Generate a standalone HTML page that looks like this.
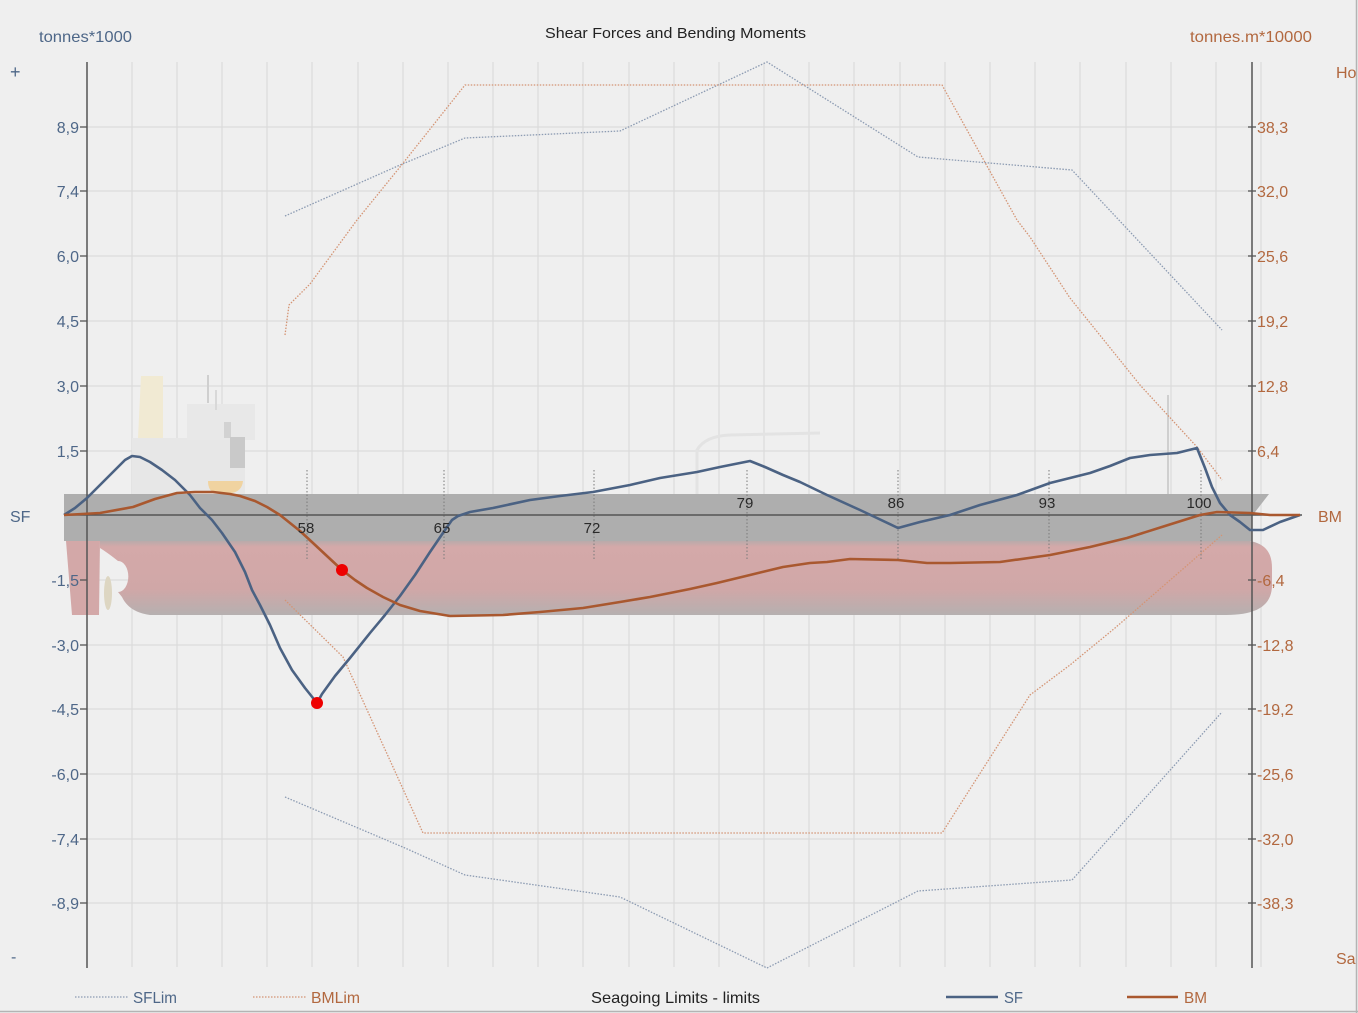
<!DOCTYPE html>
<html><head><meta charset="utf-8">
<style>
html,body{margin:0;padding:0;background:#efefef;}
svg{display:block;font-family:"Liberation Sans",sans-serif;}
</style></head>
<body>
<svg width="1358" height="1013" viewBox="0 0 1358 1013" xmlns="http://www.w3.org/2000/svg">
<defs>
<linearGradient id="hull" x1="0" y1="0" x2="0" y2="1">
<stop offset="0" stop-color="#b9aaaa"/>
<stop offset="0.08" stop-color="#d4a9a9"/>
<stop offset="0.65" stop-color="#d0a7a7"/>
<stop offset="1" stop-color="#b6b0b0"/>
</linearGradient>
</defs>
<rect x="0" y="0" width="1358" height="1013" fill="#efefef"/>
<line x1="1356.5" y1="0" x2="1356.5" y2="1013" stroke="#b4b4b4" stroke-width="1.5"/>
<line x1="0" y1="1011.5" x2="1358" y2="1011.5" stroke="#b4b4b4" stroke-width="1.5"/>

<g stroke="#dcdcdc" stroke-width="1.3">
<line x1="132" y1="62" x2="132" y2="967"/><line x1="177" y1="62" x2="177" y2="967"/><line x1="222" y1="62" x2="222" y2="967"/><line x1="267" y1="62" x2="267" y2="967"/><line x1="312" y1="62" x2="312" y2="967"/><line x1="358" y1="62" x2="358" y2="967"/><line x1="403" y1="62" x2="403" y2="967"/><line x1="448" y1="62" x2="448" y2="967"/><line x1="493" y1="62" x2="493" y2="967"/><line x1="538" y1="62" x2="538" y2="967"/><line x1="583" y1="62" x2="583" y2="967"/><line x1="629" y1="62" x2="629" y2="967"/><line x1="674" y1="62" x2="674" y2="967"/><line x1="719" y1="62" x2="719" y2="967"/><line x1="764" y1="62" x2="764" y2="967"/><line x1="809" y1="62" x2="809" y2="967"/><line x1="854" y1="62" x2="854" y2="967"/><line x1="900" y1="62" x2="900" y2="967"/><line x1="945" y1="62" x2="945" y2="967"/><line x1="990" y1="62" x2="990" y2="967"/><line x1="1035" y1="62" x2="1035" y2="967"/><line x1="1080" y1="62" x2="1080" y2="967"/><line x1="1126" y1="62" x2="1126" y2="967"/><line x1="1171" y1="62" x2="1171" y2="967"/><line x1="1216" y1="62" x2="1216" y2="967"/><line x1="1261" y1="62" x2="1261" y2="967"/>
</g>
<g stroke="#dcdcdc" stroke-width="1.3">
<line x1="87" y1="127" x2="1252" y2="127"/><line x1="87" y1="191" x2="1252" y2="191"/><line x1="87" y1="256" x2="1252" y2="256"/><line x1="87" y1="321" x2="1252" y2="321"/><line x1="87" y1="386" x2="1252" y2="386"/><line x1="87" y1="451" x2="1252" y2="451"/><line x1="87" y1="580" x2="1252" y2="580"/><line x1="87" y1="645" x2="1252" y2="645"/><line x1="87" y1="709" x2="1252" y2="709"/><line x1="87" y1="774" x2="1252" y2="774"/><line x1="87" y1="839" x2="1252" y2="839"/><line x1="87" y1="903" x2="1252" y2="903"/>
</g>

<g>
<rect x="132" y="438" width="113" height="56" fill="#e7e7e7"/>
<rect x="187" y="404" width="68" height="36" fill="#e8e8e8"/>
<polygon points="141,376 163,376 163,438 138,438" fill="#f1ead3"/>
<rect x="224" y="422" width="7" height="16" fill="#d2d2d2"/>
<rect x="230" y="437" width="15" height="31" fill="#c9c9c9"/>
<line x1="208" y1="375" x2="208" y2="403" stroke="#cfcfcf" stroke-width="2"/>
<line x1="216" y1="390" x2="216" y2="410" stroke="#d8d8d8" stroke-width="2"/>
<path d="M697 494 L697 450 Q705 436 730 435 L820 433" fill="none" stroke="#e3e3e3" stroke-width="3"/>
<line x1="1168" y1="395" x2="1168" y2="494" stroke="#cfcfcf" stroke-width="2"/>
</g>

<path d="M64 494 L1269 494 L1252 516 L1252 541 L64 541 Z" fill="#aeaeae"/>
<path d="M208 481 L243 481 Q242 491 232 493 L215 493 Q208 491 208 481 Z" fill="#f0d3a0"/>
<path d="M100 541 L1250 541 C1265 544 1272 552 1272 568 L1272 585 C1272 606 1256 615 1226 615 L150 615 Q129 612 122 597 L118 592 A10 15 0 0 0 118 561 Q108 553 100 548 Z" fill="url(#hull)"/>
<polygon points="66,541 100,541 99,615 72,615" fill="#d3a8a8"/>
<ellipse cx="108" cy="593" rx="4" ry="17" fill="#ddd6c2"/>

<g stroke="#7a7a7a" stroke-width="1" stroke-dasharray="1.5,2">
<line x1="307" y1="470" x2="307" y2="560"/><line x1="444" y1="470" x2="444" y2="560"/><line x1="594" y1="470" x2="594" y2="560"/><line x1="747" y1="470" x2="747" y2="560"/><line x1="898" y1="470" x2="898" y2="560"/><line x1="1049" y1="470" x2="1049" y2="560"/><line x1="1201" y1="470" x2="1201" y2="560"/>
</g>

<line x1="87" y1="62" x2="87" y2="968" stroke="#555" stroke-width="1.5"/>
<line x1="1252" y1="62" x2="1252" y2="968" stroke="#555" stroke-width="1.5"/>
<line x1="64" y1="515" x2="1302" y2="515" stroke="#555" stroke-width="1.5"/>
<g stroke="#555" stroke-width="1.3">
<line x1="80" y1="127" x2="87" y2="127"/><line x1="80" y1="191" x2="87" y2="191"/><line x1="80" y1="256" x2="87" y2="256"/><line x1="80" y1="321" x2="87" y2="321"/><line x1="80" y1="386" x2="87" y2="386"/><line x1="80" y1="451" x2="87" y2="451"/><line x1="80" y1="580" x2="87" y2="580"/><line x1="80" y1="645" x2="87" y2="645"/><line x1="80" y1="709" x2="87" y2="709"/><line x1="80" y1="774" x2="87" y2="774"/><line x1="80" y1="839" x2="87" y2="839"/><line x1="80" y1="903" x2="87" y2="903"/>
<line x1="1248" y1="127" x2="1256" y2="127"/><line x1="1248" y1="191" x2="1256" y2="191"/><line x1="1248" y1="256" x2="1256" y2="256"/><line x1="1248" y1="321" x2="1256" y2="321"/><line x1="1248" y1="386" x2="1256" y2="386"/><line x1="1248" y1="451" x2="1256" y2="451"/><line x1="1248" y1="580" x2="1256" y2="580"/><line x1="1248" y1="645" x2="1256" y2="645"/><line x1="1248" y1="709" x2="1256" y2="709"/><line x1="1248" y1="774" x2="1256" y2="774"/><line x1="1248" y1="839" x2="1256" y2="839"/><line x1="1248" y1="903" x2="1256" y2="903"/>
</g>

<g fill="none" stroke-width="1.3" stroke-dasharray="1.5,1.5">
<path d="M285 216 L400 165 L465 138 L620 131 L767 62 L918 157 L1072 170 L1222 330" stroke="#8c9bb2"/>
<path d="M285 797 L405 848 L465 875 L620 897 L767 968 L918 891 L1072 880 L1222 712" stroke="#8c9bb2"/>
<path d="M285 335 L289 305 L310 284 L357 220 L400 167 L465 85 L942 85 L1017 220 L1030 237 L1070 298 L1140 385 L1197 447 L1222 480" stroke="#d49474"/>
<path d="M285 600 L343 657 L423 833 L942 833 L1030 695 L1070 665 L1115 628 L1222 535" stroke="#d49474"/>
</g>

<path d="M64 515 L75 508 L87 498 L100 485 L115 470 L125 460 L132 456 L140 457 L150 462 L162 470 L175 480 L190 495 L200 508 L212 520 L222 533 L235 552 L245 572 L252 590 L260 605 L270 625 L280 648 L292 670 L305 688 L317 703 L322 694 L335 676 L350 658 L370 633 L385 615 L400 596 L415 575 L430 552 L445 530 L452 520 L458 516 L470 512 L493 508 L530 500 L560 496 L593 492 L630 485 L660 478 L697 472 L720 467 L750 461 L765 467 L783 475 L800 482 L827 495 L860 510 L898 528 L920 522 L950 515 L980 505 L1017 495 L1050 483 L1090 473 L1110 466 L1130 458 L1150 455 L1177 453 L1197 448 L1205 468 L1212 487 L1220 503 L1230 515 L1240 522 L1250 530 L1263 530 L1280 522 L1300 515" fill="none" stroke="#4b6283" stroke-width="2.6" stroke-linejoin="round"/>
<path d="M64 515 L100 513 L133 507 L155 499 L177 493 L195 492 L213 492 L230 494 L240 496 L255 501 L267 507 L280 515 L290 523 L300 531 L313 543 L328 557 L342 570 L355 580 L367 588 L383 597 L400 605 L420 611 L450 616 L503 615 L540 612 L583 608 L620 602 L650 597 L690 589 L717 583 L750 575 L783 567 L810 563 L827 562 L850 559 L898 560 L927 563 L950 563 L1000 562 L1050 555 L1090 547 L1127 538 L1165 526 L1200 515 L1217 512 L1250 513 L1270 515 L1300 515" fill="none" stroke="#a9582f" stroke-width="2.6" stroke-linejoin="round"/>
<circle cx="317" cy="703" r="6" fill="#ee0000"/>
<circle cx="342" cy="570" r="6" fill="#ee0000"/>

<g font-size="15" fill="#2a2a2a" text-anchor="middle">
<text x="306" y="533">58</text><text x="442" y="533">65</text><text x="592" y="533">72</text>
<text x="745" y="508">79</text><text x="896" y="508">86</text><text x="1047" y="508">93</text><text x="1199" y="508">100</text>
</g>

<g font-size="16" fill="#4e6788" text-anchor="end">
<text x="79" y="133">8,9</text><text x="79" y="197">7,4</text><text x="79" y="262">6,0</text><text x="79" y="327">4,5</text><text x="79" y="392">3,0</text><text x="79" y="457">1,5</text><text x="79" y="586">-1,5</text><text x="79" y="651">-3,0</text><text x="79" y="715">-4,5</text><text x="79" y="780">-6,0</text><text x="79" y="845">-7,4</text><text x="79" y="909">-8,9</text>
</g>
<g font-size="16" fill="#b2683f">
<text x="1257" y="133">38,3</text><text x="1257" y="197">32,0</text><text x="1257" y="262">25,6</text><text x="1257" y="327">19,2</text><text x="1257" y="392">12,8</text><text x="1257" y="457">6,4</text><text x="1257" y="586">-6,4</text><text x="1257" y="651">-12,8</text><text x="1257" y="715">-19,2</text><text x="1257" y="780">-25,6</text><text x="1257" y="845">-32,0</text><text x="1257" y="909">-38,3</text>
</g>

<text x="545" y="38" font-size="15" fill="#222" textLength="261" lengthAdjust="spacingAndGlyphs">Shear Forces and Bending Moments</text>
<text x="39" y="42" font-size="16" fill="#4e6788" textLength="93" lengthAdjust="spacingAndGlyphs">tonnes*1000</text>
<text x="1190" y="42" font-size="16" fill="#b2683f" textLength="122" lengthAdjust="spacingAndGlyphs">tonnes.m*10000</text>
<text x="10" y="78" font-size="18" fill="#4e6788">+</text>
<text x="11" y="962" font-size="16" fill="#4e6788">-</text>
<text x="1336" y="78" font-size="16" fill="#b2683f">Ho</text>
<text x="1336" y="964" font-size="16" fill="#b2683f">Sa</text>
<text x="10" y="522" font-size="16" fill="#4e6788">SF</text>
<text x="1318" y="522" font-size="16" fill="#b2683f">BM</text>

<line x1="75" y1="997" x2="128" y2="997" stroke="#8c9bb2" stroke-width="1.3" stroke-dasharray="1.5,1.5"/>
<text x="133" y="1003" font-size="16" fill="#4e6788" textLength="44" lengthAdjust="spacingAndGlyphs">SFLim</text>
<line x1="253" y1="997" x2="306" y2="997" stroke="#d49474" stroke-width="1.3" stroke-dasharray="1.5,1.5"/>
<text x="311" y="1003" font-size="16" fill="#b2683f" textLength="49" lengthAdjust="spacingAndGlyphs">BMLim</text>
<text x="591" y="1003" font-size="16" fill="#222" textLength="169" lengthAdjust="spacingAndGlyphs">Seagoing Limits - limits</text>
<line x1="946" y1="997" x2="998" y2="997" stroke="#4b6283" stroke-width="2.6"/>
<text x="1004" y="1003" font-size="16" fill="#4e6788" textLength="19" lengthAdjust="spacingAndGlyphs">SF</text>
<line x1="1127" y1="997" x2="1178" y2="997" stroke="#a9582f" stroke-width="2.6"/>
<text x="1184" y="1003" font-size="16" fill="#b2683f" textLength="23" lengthAdjust="spacingAndGlyphs">BM</text>
</svg>
</body></html>
